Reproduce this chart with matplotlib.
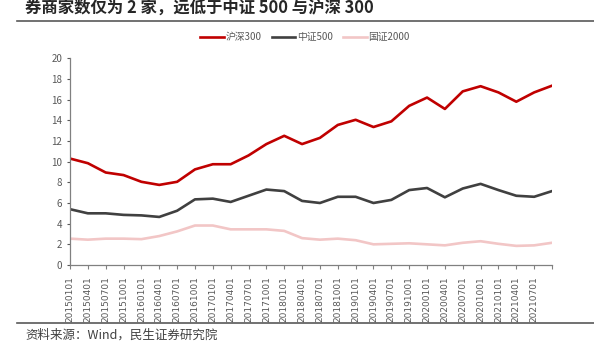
import matplotlib
matplotlib.use('Agg')
import matplotlib.pyplot as plt
import numpy as np

plt.rcParams['font.family'] = ['Noto Sans CJK SC', 'DejaVu Sans']

### data
dates = ['20150101', '20150401', '20150701', '20151001',
         '20160101', '20160401', '20160701', '20161001',
         '20170101', '20170401', '20170701', '20171001',
         '20180101', '20180401', '20180701', '20181001',
         '20190101', '20190401', '20190701', '20191001',
         '20200101', '20200401', '20200701', '20201001',
         '20210101', '20210401', '20210701', '']
hs300 = [10.3, 9.85, 8.95, 8.7, 8.05, 7.75, 8.05, 9.25, 9.75, 9.75, 10.6, 11.7, 12.5,
         11.7, 12.3, 13.55, 14.05, 13.35, 13.9, 15.4, 16.2, 15.1, 16.8, 17.3, 16.7, 15.8, 16.7, 17.35]
zz500 = [5.4, 5.0, 5.0, 4.85, 4.8, 4.65, 5.25, 6.35, 6.42, 6.1, 6.7, 7.3, 7.15,
         6.2, 6.0, 6.6, 6.6, 6.0, 6.3, 7.25, 7.45, 6.55, 7.4, 7.85, 7.25, 6.7, 6.6, 7.15]
gz2000 = [2.55, 2.45, 2.55, 2.55, 2.5, 2.8, 3.25, 3.82, 3.82, 3.45, 3.45, 3.45, 3.3,
          2.6, 2.45, 2.55, 2.4, 2.0, 2.05, 2.1, 2.0, 1.9, 2.15, 2.3, 2.05, 1.85, 1.9, 2.15]

fig = plt.figure(figsize=(5.94, 3.55), dpi=100)
W, H = 594, 355

ax = fig.add_axes([70 / W, 1 - 265 / H, (552 - 70) / W, (265 - 58.3) / H])
x = np.arange(len(dates))
ax.plot(x, hs300, color='#C00000', lw=1.9, label='沪深300')
ax.plot(x, zz500, color='#404040', lw=1.9, label='中证500')
ax.plot(x, gz2000, color='#F2C6C6', lw=1.9, label='国证2000')

ax.set_xlim(0, len(dates) - 1)
ax.set_ylim(0, 20)
ax.set_yticks(np.arange(0, 21, 2))
ax.set_xticks(x)
ax.set_xticklabels(dates, rotation=90, fontsize=6.5, color='#595959', family='DejaVu Sans')
ax.tick_params(axis='y', labelsize=7, colors='#595959', length=2, width=0.8)
ax.tick_params(axis='x', length=3, width=0.8, color='#808080', pad=5)
for s in ['top', 'right']:
    ax.spines[s].set_visible(False)
for s in ['left', 'bottom']:
    ax.spines[s].set_color('#808080')
    ax.spines[s].set_linewidth(0.9)

leg = fig.legend(loc='center', bbox_to_anchor=(305 / W, 1 - 37 / H), ncol=3, frameon=False,
                 fontsize=7, handlelength=2.4, columnspacing=1.1, handletextpad=0.15)
for t in leg.get_texts():
    t.set_color('#595959')

### title, separators and source
fig.text(25 / W, 1 - 8 / H, '券商家数仅为 2 家，远低于中证 500 与沪深 300', fontsize=11.8,
         fontweight='bold', color='#262626', va='center', ha='left')
fig.add_artist(plt.Line2D([17 / W, 1], [1 - 21 / H] * 2, color='#595959', lw=1.2))
fig.add_artist(plt.Line2D([17 / W, 1], [1 - 323 / H] * 2, color='#595959', lw=1.2))
fig.text(25 / W, 1 - 335 / H, '资料来源：Wind，民生证券研究院', fontsize=9, color='#404040',
         va='center', ha='left')

plt.savefig('out.png', dpi=100)
